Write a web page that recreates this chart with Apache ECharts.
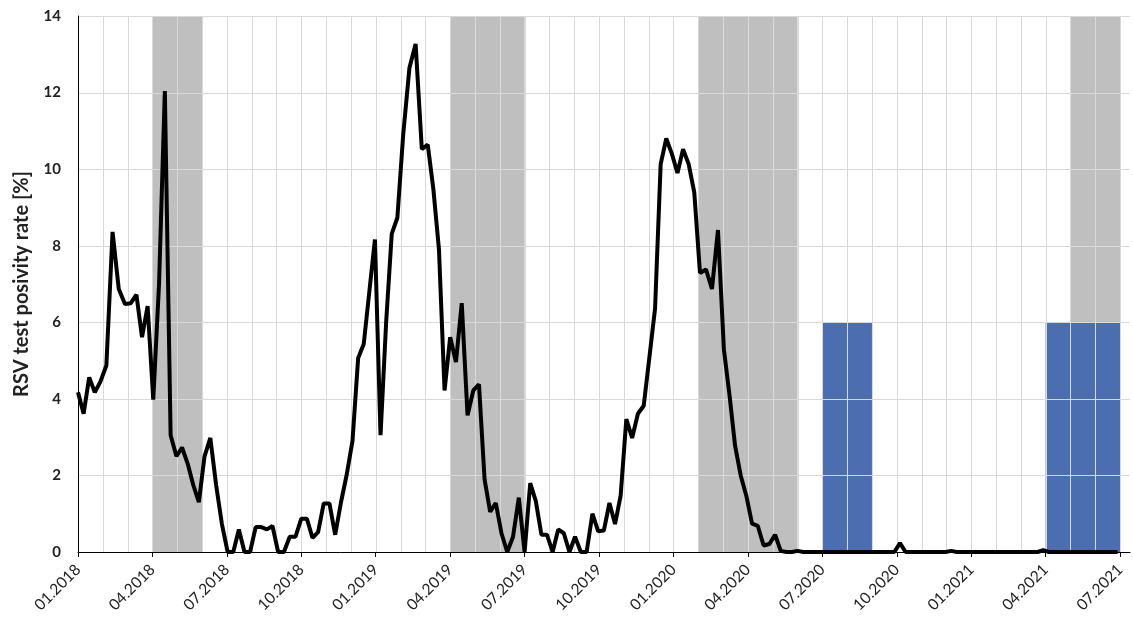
<!DOCTYPE html>
<html>
<head>
<meta charset="utf-8">
<script src="https://cdn.jsdelivr.net/npm/echarts@6/dist/echarts.min.js"></script>
<style>
  html, body { margin: 0; padding: 0; background: #fff; }
  #chart { width: 1133px; height: 618px; }
</style>
</head>
<body>
<div id="chart"></div>
<script>
// Weekly RSV test positivity rate [%]; the first week starts on this date
const firstWeek = '2018-01-01';
const positivity = [
  4.17, 3.61, 4.56, 4.17, 4.45, 4.87, 8.36, 6.87, 6.48, 6.50,
  6.72, 5.61, 6.42, 3.98, 7.00, 12.04, 3.05, 2.50, 2.73, 2.31,
  1.75, 1.30, 2.50, 2.98, 1.75, 0.73, 0.00, 0.00, 0.59, 0.00,
  0.00, 0.65, 0.65, 0.59, 0.68, 0.00, 0.00, 0.40, 0.40, 0.87,
  0.87, 0.37, 0.52, 1.27, 1.27, 0.45, 1.30, 2.03, 2.91, 5.06,
  5.43, 6.80, 8.16, 3.05, 6.00, 8.31, 8.73, 10.90, 12.64, 13.27,
  10.52, 10.64, 9.48, 7.90, 4.22, 5.61, 4.96, 6.50, 3.57, 4.22,
  4.38, 1.89, 1.05, 1.28, 0.49, 0.00, 0.40, 1.42, 0.00, 1.80,
  1.33, 0.45, 0.45, 0.00, 0.59, 0.49, 0.00, 0.40, 0.00, 0.00,
  1.00, 0.54, 0.56, 1.28, 0.73, 1.47, 3.47, 2.98, 3.61, 3.82,
  5.10, 6.36, 10.13, 10.80, 10.40, 9.90, 10.52, 10.13, 9.39, 7.29,
  7.38, 6.87, 8.41, 5.29, 4.10, 2.77, 2.00, 1.47, 0.74, 0.68,
  0.17, 0.21, 0.45, 0.03, 0.00, 0.00, 0.03, 0.00, 0.00, 0.00,
  0.00, 0.00, 0.00, 0.00, 0.00, 0.00, 0.00, 0.00, 0.00, 0.00,
  0.00, 0.00, 0.00, 0.00, 0.23, 0.00, 0.00, 0.00, 0.00, 0.00,
  0.00, 0.00, 0.00, 0.03, 0.00, 0.00, 0.00, 0.00, 0.00, 0.00,
  0.00, 0.00, 0.00, 0.00, 0.00, 0.00, 0.00, 0.00, 0.00, 0.05,
  0.00, 0.00, 0.00, 0.00, 0.00, 0.00, 0.00, 0.00, 0.00, 0.00,
  0.00, 0.00, 0.00
];

// Grey shaded periods: [first month, month where the shading ends]
const greyPeriods = [
  ['04.2018', '06.2018'],
  ['04.2019', '07.2019'],
  ['02.2020', '06.2020'],
  ['05.2021', '07.2021']
];
// Blue blocks: [first month, month where the block ends]
const bluePeriods = [
  ['07.2020', '09.2020'],
  ['04.2021', '07.2021']
];
const blueLevel = 6;

// Labelled months on the time axis
const monthLabels = [
  '01.2018', '04.2018', '07.2018', '10.2018',
  '01.2019', '04.2019', '07.2019', '10.2019',
  '01.2020', '04.2020', '07.2020', '10.2020',
  '01.2021', '04.2021', '07.2021'
];

const yAxisTitle = 'RSV test posivity rate [%]';

// Axis ranges
const X_MIN = 0, X_MAX = 42.4;   // months since January 2018
const Y_MIN = 0, Y_MAX = 14, Y_STEP = 2;

// ---- month-based x coordinate (0 = January 2018) ----
const BASE_YEAR = 2018;
function monthIndex(label) {
  const [mm, yyyy] = label.split('.').map(Number);
  return (yyyy - BASE_YEAR) * 12 + (mm - 1);
}
function dateToMonth(d) {
  const y = d.getUTCFullYear(), m = d.getUTCMonth(), day = d.getUTCDate();
  const daysInMonth = new Date(Date.UTC(y, m + 1, 0)).getUTCDate();
  return (y - BASE_YEAR) * 12 + m + (day - 1) / daysInMonth;
}

const start = new Date(firstWeek + 'T00:00:00Z');
const lineData = positivity.map((v, i) => {
  const d = new Date(start.getTime() + i * 7 * 86400000);
  return [dateToMonth(d), v];
});

const greyData = greyPeriods.map(p => [monthIndex(p[0]), monthIndex(p[1]), Y_MAX]);
const blueData = bluePeriods.map(p => [monthIndex(p[0]), monthIndex(p[1]), blueLevel]);

const tickValues = monthLabels.map(monthIndex);
const labelByMonth = {};
monthLabels.forEach(l => { labelByMonth[monthIndex(l)] = l; });

// Grid lines (one per month, one per y step), drawn above the shaded blocks
const monthLines = [];
for (let m = Math.ceil(X_MIN) + 1; m <= Math.floor(X_MAX); m++) monthLines.push([m, 0]);
const levelLines = [];
for (let y = Y_MIN + Y_STEP; y <= Y_MAX; y += Y_STEP) levelLines.push([0, y]);

const FONT = 'Lato, "Open Sans", "Noto Sans", sans-serif';
const GRID_COLOR = '#d9d9d9';

function rectRenderer(color) {
  return function (params, api) {
    const p0 = api.coord([api.value(0), Y_MIN]);
    const p1 = api.coord([api.value(1), api.value(2)]);
    return {
      type: 'rect',
      shape: { x: p0[0], y: p1[1], width: p1[0] - p0[0], height: p0[1] - p1[1] },
      style: { fill: color }
    };
  };
}
function verticalLine(params, api) {
  const a = api.coord([api.value(0), Y_MIN]);
  const b = api.coord([api.value(0), Y_MAX]);
  const x = Math.round(a[0]) + 0.5;
  return { type: 'line', shape: { x1: x, y1: a[1], x2: x, y2: b[1] },
           style: { stroke: GRID_COLOR, lineWidth: 1 } };
}
function horizontalLine(params, api) {
  const a = api.coord([X_MIN, api.value(1)]);
  const b = api.coord([X_MAX, api.value(1)]);
  const y = Math.round(a[1]) + 0.5;
  return { type: 'line', shape: { x1: a[0], y1: y, x2: b[0], y2: y },
           style: { stroke: GRID_COLOR, lineWidth: 1 } };
}

const chart = echarts.init(document.getElementById('chart'), null, { renderer: 'canvas' });
chart.setOption({
  animation: false,
  backgroundColor: '#fff',
  grid: { left: 78, right: 3, top: 16, bottom: 66 },
  xAxis: {
    type: 'value',
    min: X_MIN,
    max: X_MAX,
    interval: 1,
    z: 6,
    axisLine: { show: true, onZero: false, lineStyle: { color: '#000', width: 1 } },
    axisTick: { show: true, customValues: tickValues, length: 5, lineStyle: { color: '#000' } },
    axisLabel: {
      customValues: tickValues,
      rotate: 45,
      margin: 15,
      fontFamily: FONT,
      fontSize: 15.5,
      color: '#222',
      formatter: v => labelByMonth[Math.round(v)] || ''
    },
    splitLine: { show: false }
  },
  yAxis: {
    type: 'value',
    min: Y_MIN,
    max: Y_MAX,
    interval: Y_STEP,
    z: 6,
    name: yAxisTitle,
    nameLocation: 'middle',
    nameGap: 46,
    nameTextStyle: { fontFamily: FONT, fontWeight: 'bold', fontSize: 20, color: '#222' },
    axisLine: { show: true, lineStyle: { color: '#000', width: 1 } },
    axisTick: { show: false },
    axisLabel: { fontFamily: FONT, fontWeight: 'bold', fontSize: 15, color: '#222', margin: 17 },
    splitLine: { show: false }
  },
  series: [
    {
      type: 'custom', name: 'grey', z: 1, silent: true,
      encode: { x: [0, 1], y: 2 },
      renderItem: rectRenderer('#bfbfbf'),
      data: greyData
    },
    {
      type: 'custom', name: 'blue', z: 1, silent: true,
      encode: { x: [0, 1], y: 2 },
      renderItem: rectRenderer('#4a6eb0'),
      data: blueData
    },
    {
      type: 'custom', name: 'monthGrid', z: 2, silent: true,
      encode: { x: 0, y: 1 },
      renderItem: verticalLine,
      data: monthLines
    },
    {
      type: 'custom', name: 'levelGrid', z: 2, silent: true,
      encode: { x: 0, y: 1 },
      renderItem: horizontalLine,
      data: levelLines
    },
    {
      type: 'line', name: 'RSV', z: 5,
      showSymbol: false,
      symbol: 'none',
      lineStyle: { color: '#000', width: 4 },
      data: lineData
    }
  ]
});
</script>
</body>
</html>
